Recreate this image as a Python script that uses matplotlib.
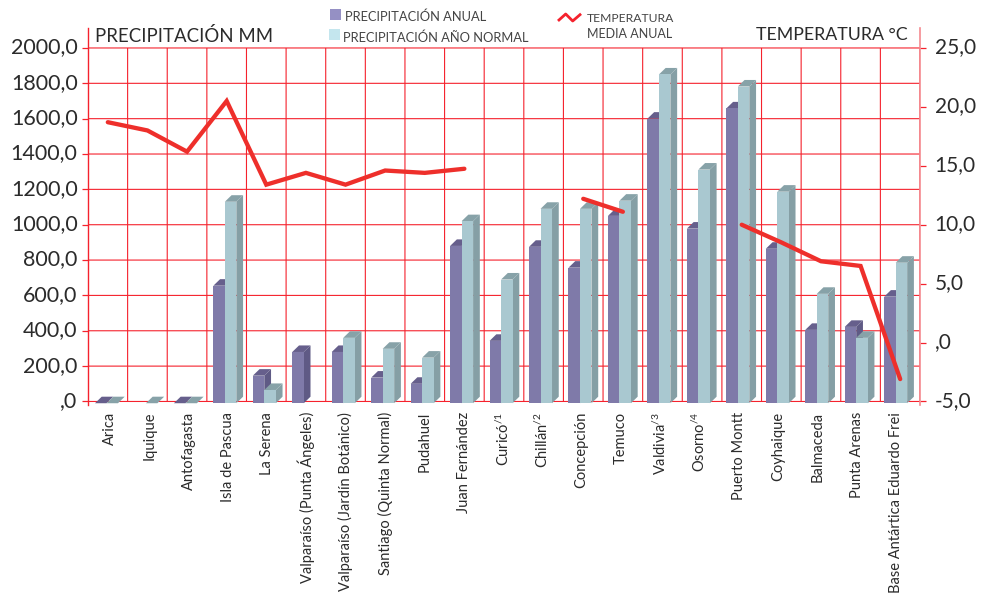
import matplotlib
matplotlib.use("Agg")
import matplotlib.pyplot as plt
import numpy as np
from matplotlib.patches import Rectangle
from matplotlib.transforms import ScaledTranslation

plt.rcParams["font.family"] = ["Lato", "DejaVu Sans"]
plt.rcParams["mathtext.default"] = "regular"

# Data
estaciones = [
    "Arica", "Iquique", "Antofagasta", "Isla de Pascua", "La Serena",
    "Valparaíso (Punta Ángeles)", "Valparaíso (Jardín Botánico)",
    "Santiago (Quinta Normal)", "Pudahuel", "Juan Fernández",
    "Curicó$^{/1}$", "Chillán$^{/2}$", "Concepción", "Temuco", "Valdivia$^{/3}$",
    "Osorno$^{/4}$", "Puerto Montt", "Coyhaique", "Balmaceda", "Punta Arenas",
    "Base Antártica Eduardo Frei",
]
anual = [0, np.nan, 0, 665, 156, 290, 290, 145, 110, 890, 353, 885, 767, 1060,
         1610, 988, 1668, 874, 415, 432, 603]
normal = [0, 0, 0, 1140, 75, np.nan, 370, 308, 258, 1030, 700, 1100, 1100, 1146,
          1860, 1322, 1792, 1197, 619, 370, 795]
temperatura = [18.7, 18.0, 16.2, 20.5, 13.4, 14.4, 13.4, 14.6, 14.4, 14.75,
               np.nan, np.nan, 12.2, 11.1, np.nan, np.nan, 10.0, 8.5, 6.9, 6.5, -3.1]
ticks_mm = [0, 200, 400, 600, 800, 1000, 1200, 1400, 1600, 1800, 2000]
labels_mm = [",0", "200,0", "400,0", "600,0", "800,0", "1000,0", "1200,0",
             "1400,0", "1600,0", "1800,0", "2000,0"]
ticks_temp = [-5, 0, 5, 10, 15, 20, 25]
labels_temp = ["-5,0", ",0", "5,0", "10,0", "15,0", "20,0", "25,0"]

W, H = 981, 594
ROJO = "#f5222d"
ROSA = "#f58a90"
TEXTO = "#2b2b2b"
LEYENDA = "#444444"

fig = plt.figure(figsize=(W / 100, H / 100), dpi=100)
ax = fig.add_axes([88 / W, (H - 405) / H, 832 / W, 377 / H])
ax.set_xlim(-0.5, 20.5)
ylim = (-20, 2113)
ax.set_ylim(*ylim)

# Grid, unsnapped so some lines blur to pink as in the original
x_grid = np.arange(22) - 0.5
ax.vlines(x_grid, 0, 2000, color=ROJO, lw=0.8, zorder=1, snap=False)
ax.hlines(ticks_mm, -0.5, 20.5, color=ROJO, lw=0.8, zorder=1, snap=False)


def barra(x, valor, front, top, side, orden):
    # front face plus the fake 3D top and side
    base = -10
    ancho = 0.29
    dx = 0.17
    dy = 37
    y = base + valor
    ax.fill([x, x + ancho, x + ancho + dx, x + dx], [y, y, y + dy, y + dy],
            color=top, lw=0, zorder=orden)
    ax.fill([x + ancho, x + ancho + dx, x + ancho + dx, x + ancho],
            [base, base + dy, y + dy, y], color=side, lw=0, zorder=orden)
    ax.bar(x, valor, width=ancho, bottom=base, align="edge", color=front, lw=0, zorder=orden + 0.1)


for i in range(len(estaciones)):
    # the bars run at a slightly tighter pitch than the grid
    x0 = i - 0.004 * (i - 4) - 0.34
    if not np.isnan(anual[i]):
        barra(x0, anual[i], "#7f7aa9", "#665f8c", "#5f5a85", 2 + i * 0.01)
    if not np.isnan(normal[i]):
        barra(x0 + 0.29, normal[i], "#a9c8d0", "#87a2a8", "#859fa5", 2.5 + i * 0.01)

ax.set_yticks(ticks_mm, labels_mm)
ax.set_xticks([0.055 + i * 0.992 for i in range(len(estaciones))], estaciones, rotation=90,
              fontsize=10.5, color=TEXTO)
ax.tick_params(axis="x", length=0, pad=5)
ax.tick_params(axis="y", length=4.5, width=0.9, color=ROJO, labelsize=15.5, labelcolor=TEXTO, pad=3)
for lado in ["top", "right", "bottom"]:
    ax.spines[lado].set_visible(False)
ax.spines["left"].set_color(ROJO)
ax.spines["left"].set_linewidth(1)

# Temperature on the right
ax2 = ax.twinx()
ax2.set_ylim(-5 + ylim[0] * 30 / 2000, -5 + ylim[1] * 30 / 2000)
ax2.plot(range(len(estaciones)), temperatura, color="#ee2f2b", lw=3.1, solid_capstyle="round",
         solid_joinstyle="miter")
ax2.set_yticks(ticks_temp, labels_temp)
ax2.tick_params(axis="y", length=4.5, width=0.9, color=ROJO, labelsize=15, labelcolor=TEXTO, pad=6)
for lado in ["top", "left", "bottom"]:
    ax2.spines[lado].set_visible(False)
ax2.spines["right"].set_color(ROSA)
ax2.spines["right"].set_linewidth(1.2)

# Lato digits sit low, nudge the tick labels up
subir = ScaledTranslation(0, 2.5 / 100, fig.dpi_scale_trans)
for label in ax.get_yticklabels() + ax2.get_yticklabels():
    label.set_transform(label.get_transform() + subir)


def texto(x, y, s, color=TEXTO, **kw):
    fig.text(x / W, 1 - y / H, s, va="center", color=color, **kw)


texto(95, 35.5, "PRECIPITACIÓN MM", fontsize=13.4)
texto(908, 35.5, "TEMPERATURA °C", fontsize=12.8, ha="right")

# Legend
fig.add_artist(Rectangle((330 / W, 1 - 20 / H), 11 / W, 11 / H, transform=fig.transFigure,
                         color="#9590c4", lw=0))
fig.add_artist(Rectangle((329 / W, 1 - 40 / H), 11 / W, 11 / H, transform=fig.transFigure,
                         color="#c4e6ee", lw=0))
texto(345, 17, "PRECIPITACIÓN ANUAL", LEYENDA, fontsize=9.25)
texto(343, 37.5, "PRECIPITACIÓN AÑO NORMAL", LEYENDA, fontsize=9.3)
fig.add_artist(plt.Line2D([559 / W, 565.7 / W, 572.7 / W, 580 / W],
                          [1 - 20 / H, 1 - 14 / H, 1 - 21 / H, 1 - 14.7 / H],
                          transform=fig.transFigure, color=ROJO, lw=2))
texto(587, 18.5, "TEMPERATURA", LEYENDA, fontsize=8.7)
texto(587, 34, "MEDIA ANUAL", LEYENDA, fontsize=9)

fig.savefig("out.png", dpi=100)
